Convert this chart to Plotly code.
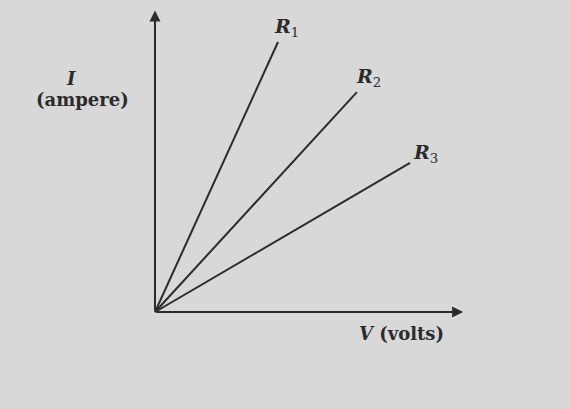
import plotly.graph_objects as go

# Data (units: equal scale on both axes, origin at the axes corner)
names = ["1", "2", "3"]
v_end = [4.1, 6.73, 8.5]
i_end = [9.0, 7.33, 4.97]
x_axis_len = 10.27
y_axis_len = 10.05

bg = "#d8d8d8"
ink = "#2b2b2b"
fig = go.Figure()
for n, v, i in zip(names, v_end, i_end):
    fig.add_trace(go.Scatter(x=[0, v], y=[0, i], mode="lines",
                             line=dict(color=ink, width=2), name="R" + n,
                             showlegend=False, hoverinfo="skip"))

# axis arrows
fig.add_annotation(x=0, y=y_axis_len, ax=0, ay=0, axref="x", ayref="y",
                   xref="x", yref="y", text="", showarrow=True,
                   arrowhead=2, arrowsize=1.1, arrowwidth=2, arrowcolor=ink)
fig.add_annotation(x=x_axis_len, y=0, ax=0, ay=0, axref="x", ayref="y",
                   xref="x", yref="y", text="", showarrow=True,
                   arrowhead=2, arrowsize=1.1, arrowwidth=2, arrowcolor=ink)

font = dict(family="DejaVu Serif", size=18, color=ink)
# line labels
lab_x = [4.37, 7.1, 9.0]
lab_y = [9.47, 7.83, 5.3]
for n, x, y in zip(names, lab_x, lab_y):
    fig.add_annotation(x=x, y=y, text="<b><i>R</i></b><sub>%s</sub>" % n, showarrow=False,
                       font=dict(family="DejaVu Serif", size=19, color=ink))

fig.add_annotation(x=-2.8, y=7.8, text="<b><i>I</i></b>", showarrow=False, font=font)
fig.add_annotation(x=-2.43, y=7.07, text="<b>(ampere)</b>", showarrow=False, font=font)
fig.add_annotation(x=8.23, y=-0.7, text="<b><i>V</i> (volts)</b>", showarrow=False, font=font)

fig.update_xaxes(visible=False, range=[-155/30, 415/30])
fig.update_yaxes(visible=False, range=[-97/30, 312/30])
fig.update_layout(width=570, height=409, margin=dict(l=0, r=0, t=0, b=0),
                  paper_bgcolor=bg, plot_bgcolor=bg)
fig.write_html("out.html", config={"displayModeBar": False},
               post_script="document.body.style.margin='0';document.body.style.background='%s';" % bg)
